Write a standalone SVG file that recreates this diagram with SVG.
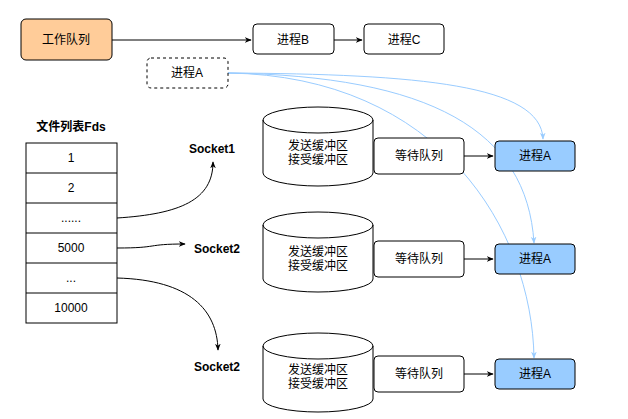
<svg xmlns="http://www.w3.org/2000/svg" width="628" height="419" viewBox="0 0 628 419">
<defs>
<marker id="ab" viewBox="0 0 10 10" refX="9" refY="5" markerWidth="7" markerHeight="7" orient="auto"><path d="M0,1 L10,5 L0,9 L3,5 Z" fill="#000"/></marker>
<marker id="abl" viewBox="0 0 10 10" refX="9" refY="5" markerWidth="7" markerHeight="7" orient="auto"><path d="M0,1 L10,5 L0,9 L3,5 Z" fill="#99CCFF"/></marker>
</defs>
<style>
text{font-family:"Liberation Sans","Noto Sans CJK SC",sans-serif;font-size:12px;text-anchor:middle;dominant-baseline:central;fill:#000}
.b{font-weight:bold;font-size:12px}
.box{fill:#fff;stroke:#000;stroke-width:1}
.blue{fill:#99CCFF;stroke:#000}
.c{fill:none;stroke:#000;stroke-width:1}
.cb{fill:none;stroke:#99CCFF;stroke-width:1}
</style>
<g id="connectors">
<path class="c" d="M112,40 H251" marker-end="url(#ab)"/>
<path class="c" d="M334,40 H362" marker-end="url(#ab)"/>
<path class="c" d="M464,156 H493" marker-end="url(#ab)"/>
<path class="c" d="M464,259 H493" marker-end="url(#ab)"/>
<path class="c" d="M464,374 H493" marker-end="url(#ab)"/>
<path class="c" d="M117,218 C180,214 213,200 213,162" marker-end="url(#ab)"/>
<path class="c" d="M117,248 C160,248 145,244 185,244" marker-end="url(#ab)"/>
<path class="c" d="M117,278 C190,280 217,310 218,350" marker-end="url(#ab)"/>
<path class="cb" d="M228,73 C420,74 541,85 543,139" marker-end="url(#abl)"/>
<path class="cb" d="M228,73 C430,76 527,130 534,243" marker-end="url(#abl)"/>
<path class="cb" d="M228,73 C440,76 532,230 534,358" marker-end="url(#abl)"/>
</g>
<g id="work"><rect x="21" y="19" width="91" height="41" rx="5" fill="#FFCC99" stroke="#000"/><text x="66" y="40">工作队列</text></g>
<g id="pB"><rect class="box" x="253" y="24" width="81" height="30" rx="4"/><text x="293" y="40">进程B</text></g>
<g id="pC"><rect class="box" x="364" y="24" width="80" height="30" rx="4"/><text x="404" y="40">进程C</text></g>
<g id="pAd"><rect x="147" y="58" width="81" height="30" rx="4" fill="#fff" stroke="#000" stroke-dasharray="3,3"/><text x="187" y="73">进程A</text></g>
<g id="fds">
<text class="b" x="71" y="127">文件列表Fds</text>
<rect class="box" x="26" y="143" width="91" height="180"/>
<path class="c" d="M26,173H117M26,203H117M26,233H117M26,263H117M26,293H117"/>
<text x="71" y="158">1</text><text x="71" y="188">2</text><text x="71" y="218">......</text><text x="71" y="248">5000</text><text x="71" y="278">...</text><text x="71" y="308">10000</text>
</g>
<g id="s1"><text class="b" x="212" y="149">Socket1</text></g>
<g id="s2"><text class="b" x="217" y="249">Socket2</text></g>
<g id="s3"><text class="b" x="217" y="367">Socket2</text></g>
<g id="cyl1"><path class="box" d="M263,120 V173 A55,13 0 0 0 373,173 V120 A55,13 0 0 0 263,120 A55,13 0 0 0 373,120"/><text x="318" y="146">发送缓冲区</text><text x="318" y="160">接受缓冲区</text></g>
<g id="cyl2"><path class="box" d="M263,225 V279 A55,13 0 0 0 373,279 V225 A55,13 0 0 0 263,225 A55,13 0 0 0 373,225"/><text x="318" y="252">发送缓冲区</text><text x="318" y="266">接受缓冲区</text></g>
<g id="cyl3"><path class="box" d="M263,346 V399 A55,13 0 0 0 373,399 V346 A55,13 0 0 0 263,346 A55,13 0 0 0 373,346"/><text x="318" y="370">发送缓冲区</text><text x="318" y="384">接受缓冲区</text></g>
<g id="w1"><rect class="box" x="374" y="138" width="90" height="36" rx="4"/><text x="419" y="156">等待队列</text></g>
<g id="w2"><rect class="box" x="374" y="241" width="90" height="36" rx="4"/><text x="419" y="259">等待队列</text></g>
<g id="w3"><rect class="box" x="374" y="356" width="90" height="36" rx="4"/><text x="419" y="374">等待队列</text></g>
<g id="a1"><rect class="blue" x="495" y="141" width="80" height="30" rx="4"/><text x="535" y="156">进程A</text></g>
<g id="a2"><rect class="blue" x="495" y="244" width="80" height="30" rx="4"/><text x="535" y="259">进程A</text></g>
<g id="a3"><rect class="blue" x="495" y="359" width="80" height="30" rx="4"/><text x="535" y="374">进程A</text></g>
</svg>
